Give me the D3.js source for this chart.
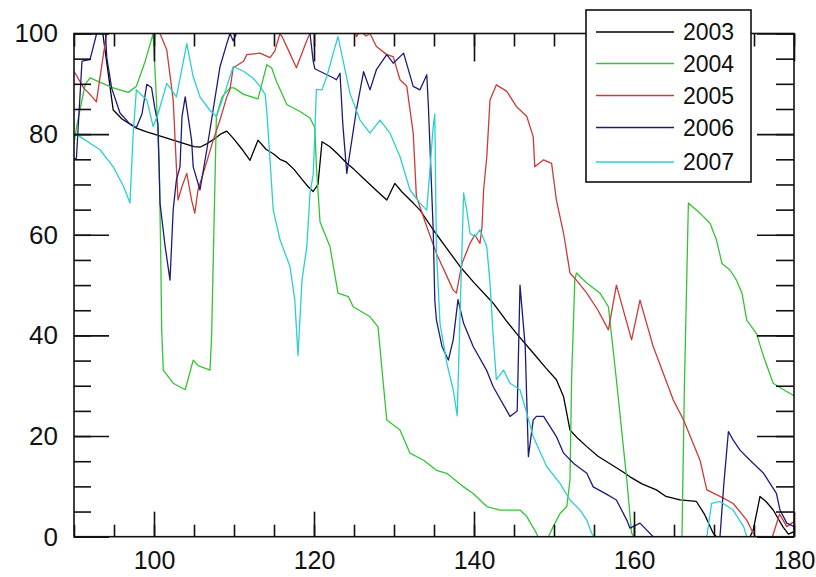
<!DOCTYPE html>
<html>
<head>
<meta charset="utf-8">
<script src="https://cdn.jsdelivr.net/npm/d3@7"></script>
<style>
  html, body { margin: 0; padding: 0; background: #fff; }
  svg { display: block; }
  text { font-family: "Liberation Sans", Arial, Helvetica, sans-serif; fill: #111; }
</style>
</head>
<body>
<svg id="chart" width="816" height="577"></svg>
<script>
// ---------- data ----------
const seriesNames = ["2003", "2004", "2005", "2006", "2007"];
const seriesColors = ["#000000", "#33c433", "#cc3a3a", "#1c1c78", "#2ccfcf"];

const xTicks = [100, 120, 140, 160, 180];
const xMinorTicks = d3.range(90, 181, 5);
const yTicks = [0, 20, 40, 60, 80, 100];
const yMinorTicks = d3.range(0, 101, 5);

const d2003 = [[90,106],[92,103],[93.6,100],[94.9,84.8],[96,83],[97.8,81.2],[99,80.5],[100,80],[101,79.5],[102,79],[103,78.5],[104,78],[105,77.5],[105.75,77.4],[106.5,78],[107.5,79],[108.3,80],[109.1,80.6],[110,79],[111,77],[112,74.8],[113,78.8],[114,77],[115,76],[115.75,75],[116.5,74.5],[117.5,73],[118.5,71],[119.3,69.5],[119.9,68.6],[120.5,70],[121,78.5],[122,77.5],[123,76],[124.1,74.2],[125,73],[126,71.5],[127,70],[128,68.5],[129.1,66.9],[130.1,70.2],[131,68.5],[132.4,66.3],[133.25,64.9],[134.9,61],[136.5,57.5],[138.25,53.7],[140,50.5],[142.4,46.4],[144,43],[145.3,40.4],[147.4,36.5],[149,33.5],[150.3,31.2],[151.2,27.8],[152,21.2],[153,19.5],[154.1,17.9],[155.5,16],[157,14.5],[158.5,13],[159.5,11.9],[161,10.5],[162.8,9.3],[164,8],[165.75,7.3],[167.8,7],[168.8,4.5],[169.9,0.7],[170.3,0],[174.5,0],[174.9,1.3],[175.75,8],[176.5,7],[177.4,5.3],[178.6,2],[179.3,0.5],[180,1]];

const d2004 = [[90,78],[90.3,81.3],[91.4,89.9],[92,91.2],[93,90.5],[94.9,89.2],[96.8,88.3],[97.8,89.5],[98.9,94.5],[99.9,100],[100.3,87],[100.66,73.5],[100.85,55],[100.96,41.1],[101.16,33.1],[102.4,30.5],[103.9,29.2],[104.9,35.1],[105.5,34],[107,33.1],[107.2,39.8],[107.5,62],[107.8,83.5],[108.5,87.4],[109.5,89.2],[110,89.2],[111.2,87.9],[113,87],[114.1,93.8],[114.7,93.2],[115.3,90.5],[116.6,85.9],[118.25,84.5],[119.5,83.2],[120.1,81.3],[120.3,73.5],[120.75,62.6],[122,57.6],[123,48.4],[124.3,47.7],[124.9,45.7],[127,43.7],[128,41.7],[128.7,29.8],[129.1,23.2],[130.75,21.2],[132,16.6],[133.7,15.2],[135.3,13.2],[136.6,12.6],[138.7,9.9],[139.9,8.6],[141.6,6],[143.25,5.3],[145.75,5.3],[146.6,4],[147.8,0.7],[148,0],[149.3,0],[149.9,2],[150.75,4.6],[151.6,6],[152,11.3],[152.2,31.2],[152.6,51],[152.8,52.4],[154.1,50.4],[155.75,48.4],[156.8,45.7],[157.8,31.2],[159.1,11.3],[159.7,0.7],[160,0],[166,0],[166.3,30],[166.8,66.3],[168.25,64.3],[169.5,62.3],[170.3,59],[171,54.3],[172,53],[172.8,51],[173.5,48.4],[174.1,43],[175.3,40.4],[176.2,35.8],[177.4,30.5],[178.7,29.2],[180,28]];

const d2005 = [[90,92.5],[91.2,89.2],[92,87.9],[92.8,86.4],[93.7,96.1],[94.1,100],[94.5,102],[100.5,102],[100.75,100],[101.6,96.7],[102.4,86.8],[102.8,73.5],[103,66.9],[103.5,69.6],[104.1,72.2],[104.7,66.9],[105.1,64.3],[105.5,68.9],[106.5,74],[107.4,78.8],[108.25,82.8],[109.1,87.4],[109.5,88.9],[109.9,93.2],[111.2,94.5],[111.6,95.8],[113.25,96.1],[114.5,95.2],[115.1,96.5],[115.75,100],[116,99.4],[116.8,96.7],[117.8,93.2],[119.1,98.6],[119.5,100],[120,101.5],[125,101.5],[125.3,99.4],[125.8,100.5],[126.5,99.5],[127,100],[127.8,97.4],[129.1,95.8],[129.9,95.4],[130.75,90.8],[131.6,89.5],[132.4,80.2],[132.8,67.6],[134.1,61.6],[135.3,56.3],[137.4,49],[137.8,48.4],[138.5,54.3],[139.5,58.3],[140.1,60],[140.75,58.3],[141,61.6],[141.2,68.9],[141.6,75.5],[142,86.8],[142.8,89.8],[144.1,88.5],[145.3,85.5],[146.6,83.5],[147.4,79.5],[147.6,73.5],[148.7,74.9],[149.7,74.2],[150.3,66.9],[151.2,60.3],[152,52.4],[152.8,51],[154.1,48.4],[155.5,45],[156.8,41.1],[157.8,50],[159.7,39.1],[160.75,47],[162.4,37.8],[164.9,27.2],[166.2,23.2],[168.25,15.2],[169.1,9.3],[170.75,8],[172.4,6.6],[174.1,3.3],[174.9,0.7],[175.2,0],[177.3,0],[178.2,4.5],[179.1,2],[180,3]];

const d2006 = [[90,75],[90.3,75.2],[91,94.5],[92,94.8],[92.8,99.8],[93.2,101],[93.9,101],[94.1,95.2],[94.7,89.2],[95.75,84.2],[97,82],[97.8,81.3],[98.5,84],[99.1,89.9],[99.7,89.2],[100.1,85.2],[100.5,82],[100.75,66.3],[101.4,57.6],[102,51],[102.4,65],[102.8,70.9],[103.25,73.5],[103.5,83.5],[103.9,87.4],[104.7,78.8],[104.9,73.5],[105.75,68.9],[106.6,76.9],[107.4,84.9],[108.25,93.4],[109.1,98],[109.5,100],[109.9,98.5],[110.3,100],[111,102],[119,102],[119.5,100],[119.9,94.5],[120.1,93],[121.6,91.8],[122.4,91.2],[122.8,90.8],[123.25,92.1],[123.6,82],[124.1,72.2],[125.3,84.8],[126.2,92.4],[127,88.8],[127.8,92.8],[129.1,95.8],[129.9,94.1],[131.2,96.1],[132.4,89.5],[133.25,88.8],[134.1,91.8],[134.3,85.5],[134.9,61],[135.1,47],[135.3,43.1],[136,37.8],[136.8,35.1],[137.4,39.1],[138,47.1],[138.7,42.4],[139.9,37.8],[141.6,33],[142.4,29.8],[144.5,23.9],[145.4,25],[145.75,50],[146.4,37.8],[146.8,15.9],[147.4,23.2],[147.8,23.9],[148.7,23.9],[150.3,19.9],[151.2,16.6],[152.5,14.5],[154.1,12.6],[154.9,9.9],[156.5,8.5],[157.8,7.3],[159.1,3.3],[159.5,1.7],[160.75,2.7],[162.4,0],[170.75,0],[171.2,9.9],[171.8,20.9],[172.4,19.2],[173.25,17.2],[174.5,15.2],[176.2,12.6],[177.8,8.6],[178.25,5.3],[179.1,2.7],[180,2]];

const d2007 = [[90,80],[90.75,79.5],[93.25,76.9],[94.9,73.5],[96.2,69.6],[97,66.3],[97.4,80.2],[97.8,88.8],[99.1,86.8],[99.9,81.5],[100.5,84],[101.6,90.1],[102.8,87.4],[104.1,98],[104.9,91.4],[105.75,87.4],[107,84.7],[107.8,83.5],[108.8,88],[109.9,93.4],[111.2,92.5],[112.4,91.1],[113.25,89.5],[113.9,87.9],[114.1,84.5],[114.5,74.9],[114.9,65],[115.75,59],[117,53.7],[117.6,47],[118,36],[118.5,51],[119.1,57.6],[119.5,68.3],[119.9,72],[120.1,80],[120.3,88.9],[121,88.8],[121.6,91.4],[122.4,96.1],[123,99.4],[123.7,94.1],[124.5,88.1],[125.75,82.8],[127,80.2],[128.25,82.8],[129.5,80.2],[130.75,75.5],[132,68.9],[133.25,66.3],[134.1,64.9],[134.9,81.5],[135.1,84],[135.3,57],[135.75,42.4],[136.6,34.5],[137.4,29.2],[137.9,24],[138.25,43.7],[138.7,68.3],[139.1,64.9],[139.5,60.3],[140.1,59.6],[140.75,61],[141.6,57.6],[142,50.4],[142.4,39.8],[142.8,31.2],[143.7,33.1],[144.5,30.5],[145.75,29.2],[146.6,24.5],[147.4,19.9],[149.1,13.9],[150.75,10.6],[152,7.3],[153.25,5.3],[154.1,3.3],[154.7,0.7],[155,0],[169.1,0],[169.7,6.6],[170.75,7],[172.4,5.3],[173.7,2],[174.1,0],[180,0]];

const seriesData = [d2003, d2004, d2005, d2006, d2007];

// ---------- layout ----------
const svg = d3.select("#chart");
const plotLeft = 74, plotRight = 794, plotTop = 33.5, plotBottom = 536.7;

const x = d3.scaleLinear().domain([90, 180]).range([plotLeft, plotRight]);
const y = d3.scaleLinear().domain([0, 100]).range([plotBottom, plotTop]);

svg.append("defs").append("clipPath").attr("id", "plotclip")
  .append("rect").attr("x", plotLeft).attr("y", plotTop)
  .attr("width", plotRight - plotLeft).attr("height", plotBottom - plotTop);

// lines
const line = d3.line().x(d => x(d[0])).y(d => y(d[1]));
const gLines = svg.append("g").attr("clip-path", "url(#plotclip)");
seriesData.forEach((data, i) => {
  gLines.append("path")
    .datum(data)
    .attr("d", line)
    .attr("fill", "none")
    .attr("stroke", seriesColors[i])
    .attr("stroke-width", 1.3)
    .attr("stroke-linejoin", "round");
});

// frame
svg.append("rect")
  .attr("x", plotLeft).attr("y", plotTop)
  .attr("width", plotRight - plotLeft).attr("height", plotBottom - plotTop)
  .attr("fill", "none").attr("stroke", "#111").attr("stroke-width", 1.6);

function styleAxis(g) {
  g.select(".domain").remove();
  g.selectAll(".tick line").attr("stroke", "#111").attr("stroke-width", 1.6);
}

// Y axes (left with labels, right mirrored)
svg.append("g").attr("transform", `translate(${plotLeft},0)`)
  .call(d3.axisLeft(y).tickValues(yMinorTicks).tickSize(-17).tickFormat(""))
  .call(styleAxis);
svg.append("g").attr("transform", `translate(${plotLeft},0)`)
  .call(d3.axisLeft(y).tickValues(yTicks).tickSize(-35).tickPadding(16).tickFormat(d3.format("d")))
  .call(styleAxis)
  .call(g => g.selectAll("text").attr("font-size", 26).attr("fill", "#111")
    .style("font-family", '"Liberation Sans", Arial, sans-serif'));
svg.append("g").attr("transform", `translate(${plotRight},0)`)
  .call(d3.axisRight(y).tickValues(yMinorTicks).tickSize(-18).tickFormat(""))
  .call(styleAxis);
svg.append("g").attr("transform", `translate(${plotRight},0)`)
  .call(d3.axisRight(y).tickValues(yTicks).tickSize(-37).tickFormat(""))
  .call(styleAxis);

// X axes (bottom with labels, top mirrored)
svg.append("g").attr("transform", `translate(0,${plotBottom})`)
  .call(d3.axisBottom(x).tickValues(xMinorTicks).tickSize(-12).tickFormat(""))
  .call(styleAxis);
svg.append("g").attr("transform", `translate(0,${plotBottom})`)
  .call(d3.axisBottom(x).tickValues(xTicks).tickSize(-25).tickPadding(15).tickFormat(d3.format("d")))
  .call(styleAxis)
  .call(g => g.selectAll("text").attr("font-size", 25).attr("fill", "#111")
    .style("font-family", '"Liberation Sans", Arial, sans-serif'));
svg.append("g").attr("transform", `translate(0,${plotTop})`)
  .call(d3.axisTop(x).tickValues(xMinorTicks).tickSize(-13).tickFormat(""))
  .call(styleAxis);
svg.append("g").attr("transform", `translate(0,${plotTop})`)
  .call(d3.axisTop(x).tickValues(xTicks).tickSize(-28).tickFormat(""))
  .call(styleAxis);

// legend
const lg = svg.append("g");
lg.append("rect")
  .attr("x", 586).attr("y", 10).attr("width", 165).attr("height", 172)
  .attr("fill", "#fff").attr("stroke", "#111").attr("stroke-width", 1.6);
const rowY = [32, 63.5, 95.5, 127.5, 162];
seriesNames.forEach((name, i) => {
  lg.append("line")
    .attr("x1", 596).attr("x2", 674)
    .attr("y1", rowY[i]).attr("y2", rowY[i])
    .attr("stroke", seriesColors[i]).attr("stroke-width", 1.4);
  lg.append("text")
    .attr("x", 683).attr("y", rowY[i])
    .attr("dy", "0.36em")
    .attr("font-size", 23)
    .text(name);
});
</script>
</body>
</html>
